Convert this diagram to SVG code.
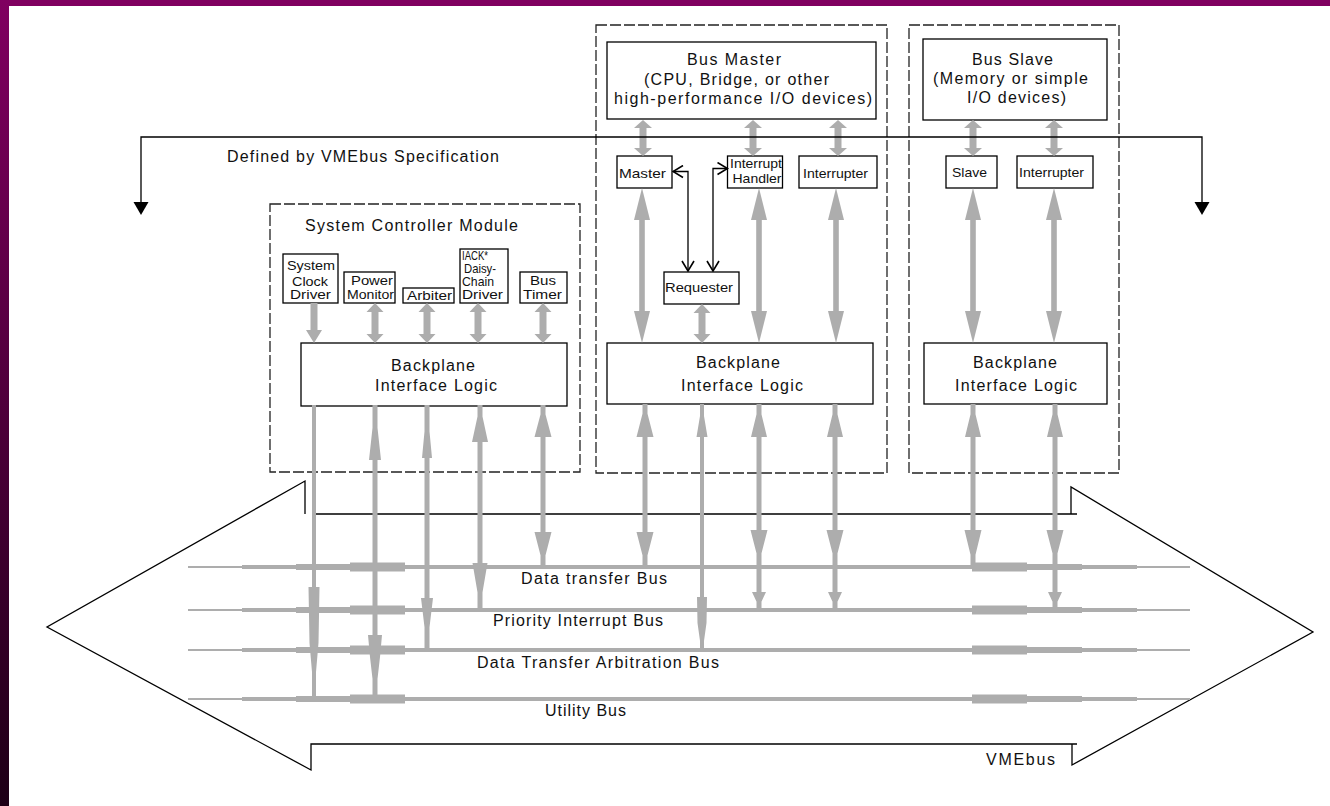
<svg xmlns="http://www.w3.org/2000/svg" width="1330" height="806" viewBox="0 0 1330 806">
<defs>
<linearGradient id="side" x1="0" y1="0" x2="0" y2="1"><stop offset="0" stop-color="#800060"/><stop offset="1" stop-color="#1e0016"/></linearGradient>
<marker id="tri" markerUnits="userSpaceOnUse" viewBox="0 -8 14 16" markerWidth="14" markerHeight="16" refX="0" refY="0" orient="auto"><path d="M0,-7.5L13,0L0,7.5Z" fill="#000"/></marker>
<marker id="open" markerUnits="userSpaceOnUse" viewBox="-1 -7 12 14" markerWidth="12" markerHeight="14" refX="10" refY="0" orient="auto-start-reverse"><path d="M0,-6L10,0L0,6" fill="none" stroke="#000" stroke-width="1.6"/></marker>
<path id="busline" fill="#adadad" d="M188,-1 H242 V-2 H296 V-3 H350 V-4.5 H405 V-2 H972 V-4.5 H1027 V-3 H1082 V-2 H1137 V-1 H1190 V1 H1137 V2 H1082 V3 H1027 V4.5 H972 V2 H405 V4.5 H350 V3 H296 V2 H242 V1 H188 Z"/>
<style>
.box{fill:#fff;stroke:#000;stroke-width:1.3}
.dash{fill:none;stroke:#222;stroke-width:1.3;stroke-dasharray:11 3}
.t{font-family:"Liberation Sans",Arial,sans-serif;fill:#111}
.L{font-size:16px}
.S{font-size:13px}
.g{fill:#adadad}
.k{stroke:#000;stroke-width:1.3;fill:none}
</style>
</defs>
<rect x="0" y="0" width="1330" height="806" fill="#fff"/>
<rect x="0" y="0" width="1330" height="6" fill="#800060"/>
<rect x="0" y="0" width="9" height="806" fill="url(#side)"/>

<g id="bus-master-module">
<rect class="dash" x="596" y="25" width="291" height="448"/>
</g>
<g id="bus-slave-module">
<rect class="dash" x="909" y="25" width="210" height="448"/>
</g>
<g id="system-controller-module">
<rect class="dash" x="270" y="204" width="310" height="268"/>
<text class="t L" x="305" y="231" textLength="213">System Controller Module</text>
</g>

<g id="bus-master">
<rect class="box" x="607" y="42" width="269" height="77"/>
<text class="t L" x="687" y="65" textLength="94">Bus Master</text>
<text class="t L" x="644" y="85" textLength="185">(CPU, Bridge, or other</text>
<text class="t L" x="614" y="104" textLength="258">high-performance I/O devices)</text>
</g>
<g id="bus-slave">
<rect class="box" x="923" y="39" width="184" height="81"/>
<text class="t L" x="972" y="65" textLength="81">Bus Slave</text>
<text class="t L" x="933" y="84" textLength="155">(Memory or simple</text>
<text class="t L" x="967" y="103" textLength="99">I/O devices)</text>
</g>
<g id="master">
<rect class="box" x="617" y="156" width="55" height="32"/>
<text class="t S" x="619" y="178" textLength="47" lengthAdjust="spacingAndGlyphs">Master</text>
</g>
<g id="interrupt-handler">
<rect class="box" x="727.5" y="156" width="55" height="32"/>
<text class="t S" x="730" y="167.5" textLength="52" lengthAdjust="spacingAndGlyphs">Interrupt</text>
<text class="t S" x="732.5" y="183" textLength="49" lengthAdjust="spacingAndGlyphs">Handler</text>
</g>
<g id="interrupter-master">
<rect class="box" x="799" y="156" width="78" height="32"/>
<text class="t S" x="803" y="178" textLength="65" lengthAdjust="spacingAndGlyphs">Interrupter</text>
</g>
<g id="slave">
<rect class="box" x="946" y="156" width="51" height="32"/>
<text class="t S" x="952" y="177" textLength="35" lengthAdjust="spacingAndGlyphs">Slave</text>
</g>
<g id="interrupter-slave">
<rect class="box" x="1017" y="156" width="76" height="32"/>
<text class="t S" x="1019" y="177" textLength="65" lengthAdjust="spacingAndGlyphs">Interrupter</text>
</g>
<g id="requester">
<rect class="box" x="664" y="272" width="75" height="32"/>
<text class="t S" x="665" y="292" textLength="68" lengthAdjust="spacingAndGlyphs">Requester</text>
</g>
<g id="backplane-master">
<rect class="box" x="607" y="343" width="266" height="61"/>
<text class="t L" x="696" y="368" textLength="84">Backplane</text>
<text class="t L" x="681" y="391" textLength="122">Interface Logic</text>
</g>
<g id="backplane-slave">
<rect class="box" x="924" y="343" width="183" height="61"/>
<text class="t L" x="973" y="368" textLength="84">Backplane</text>
<text class="t L" x="955" y="391" textLength="122">Interface Logic</text>
</g>
<g id="backplane-sysctrl">
<rect class="box" x="301" y="343" width="266" height="63"/>
<text class="t L" x="391" y="371" textLength="84">Backplane</text>
<text class="t L" x="375" y="391" textLength="122">Interface Logic</text>
</g>
<g id="system-clock-driver">
<rect class="box" x="283" y="254" width="55" height="49"/>
<text class="t S" x="287" y="270" textLength="48" lengthAdjust="spacingAndGlyphs">System</text>
<text class="t S" x="292" y="285.5" textLength="36" lengthAdjust="spacingAndGlyphs">Clock</text>
<text class="t S" x="290" y="299" textLength="41" lengthAdjust="spacingAndGlyphs">Driver</text>
</g>
<g id="power-monitor">
<rect class="box" x="344" y="272" width="51" height="31"/>
<text class="t S" x="351" y="285" textLength="42" lengthAdjust="spacingAndGlyphs">Power</text>
<text class="t S" x="347" y="299" textLength="47" lengthAdjust="spacingAndGlyphs">Monitor</text>
</g>
<g id="arbiter">
<rect class="box" x="403" y="288" width="51" height="15"/>
<text class="t S" x="407" y="300" textLength="45" lengthAdjust="spacingAndGlyphs">Arbiter</text>
</g>
<g id="iack-daisy-chain-driver">
<rect class="box" x="460" y="249" width="48" height="54"/>
<text class="t S" x="462" y="260" textLength="26" lengthAdjust="spacingAndGlyphs">IACK*</text>
<text class="t S" x="464" y="273" textLength="32" lengthAdjust="spacingAndGlyphs">Daisy-</text>
<text class="t S" x="462" y="286" textLength="32" lengthAdjust="spacingAndGlyphs">Chain</text>
<text class="t S" x="462" y="299" textLength="41" lengthAdjust="spacingAndGlyphs">Driver</text>
</g>
<g id="bus-timer">
<rect class="box" x="520" y="272" width="47" height="31"/>
<text class="t S" x="530" y="285" textLength="26" lengthAdjust="spacingAndGlyphs">Bus</text>
<text class="t S" x="523" y="299" textLength="39" lengthAdjust="spacingAndGlyphs">Timer</text>
</g>

<g id="vmebus">
<path class="k" d="M305,514 V481 L47,627 L311,770 V744 H1077 M312,514 H1077 M1071,514 V487 L1313,632 L1072,765 V744"/>
<use href="#busline" y="567"/>
<use href="#busline" y="610"/>
<use href="#busline" y="650"/>
<use href="#busline" y="699"/>
<text class="t L" x="986" y="765" textLength="69">VMEbus</text>
<text class="t L" x="521" y="584" textLength="146">Data transfer Bus</text>
<text class="t L" x="493" y="626" textLength="170">Priority Interrupt Bus</text>
<text class="t L" x="477" y="668" textLength="242">Data Transfer Arbitration Bus</text>
<text class="t L" x="545" y="716" textLength="81">Utility Bus</text>
</g>

<g id="connectors">
<g class="g">
<path d="M643,120 L652,128 H646.5 V148 H652 L643,156 L634,148 H639.5 V128 H634 Z"/>
<path d="M753,120 L762,128 H756.5 V148 H762 L753,156 L744,148 H749.5 V128 H744 Z"/>
<path d="M838,120 L847,128 H841.5 V148 H847 L838,156 L829,148 H834.5 V128 H829 Z"/>
<path d="M973,120 L982,128 H976.5 V148 H982 L973,156 L964,148 H969.5 V128 H964 Z"/>
<path d="M1054,120 L1063,128 H1057.5 V148 H1063 L1054,156 L1045,148 H1050.5 V128 H1045 Z"/>
<path d="M375,303 L383.5,312 H378.5 V334 H383.5 L375,343 L366.5,334 H371.5 V312 H366.5 Z"/>
<path d="M427,303 L435.5,312 H430.5 V334 H435.5 L427,343 L418.5,334 H423.5 V312 H418.5 Z"/>
<path d="M478,303 L486.5,312 H481.5 V334 H486.5 L478,343 L469.5,334 H474.5 V312 H469.5 Z"/>
<path d="M543,303 L551.5,312 H546.5 V334 H551.5 L543,343 L534.5,334 H539.5 V312 H534.5 Z"/>
<path d="M310.5,303 H317.5 V330 H322 L314,343 L306,330 H310.5 Z"/>
<path d="M702,304 L710.5,313 H705.5 V334 H710.5 L702,343 L693.5,334 H698.5 V313 H693.5 Z"/>
<path d="M642,188 L650,220 H644.8 V311 H650 L642,343 L634,311 H639.2 V220 H634 Z"/>
<path d="M759,188 L767,220 H761.8 V311 H767 L759,343 L751,311 H756.2 V220 H751 Z"/>
<path d="M836,188 L844,220 H838.8 V311 H844 L836,343 L828,311 H833.2 V220 H828 Z"/>
<path d="M973,188 L981,220 H975.8 V311 H981 L973,343 L965,311 H970.2 V220 H965 Z"/>
<path d="M1054,188 L1062,220 H1056.8 V311 H1062 L1054,343 L1046,311 H1051.2 V220 H1046 Z"/>
<path d="M312,405 H316 V699 H312 Z M308.5,587 H319.5 L318.5,643 L316,672 H312 L309.5,643 Z"/>
<path d="M372.5,405 H377.5 V699 H372.5 Z M375,405 L381,460 H369 Z M368,635 H382 L380,657 L376,692 H374 L370,657 Z"/>
<path d="M424.5,405 H429.5 V650 H424.5 Z M427,405 L432,458 H422 Z M421,598 H433 L427,648 Z"/>
<path d="M477.5,405 H482.5 V610 H477.5 Z M480,405 L488,442 H472 Z M472.5,563 H487.5 L480,607 Z"/>
<path d="M540.5,405 H545.5 V567 H540.5 Z M543,405 L551.5,437 H534.5 Z M534.5,532 H551.5 L543,565 Z"/>
<path d="M642.5,404 H647.5 V567 H642.5 Z M645,404 L653.5,437 H636.5 Z M636.5,532 H653.5 L645,565 Z"/>
<path d="M700,404 H704 V650 H700 Z M702,404 L707.5,437 H696.5 Z M697,597 H707 L706.5,623 L703,648 H701 L697.5,623 Z"/>
<path d="M756.5,404 H761.5 V610 H756.5 Z M759,404 L767,437 H751 Z M750.5,530 H767.5 L759,563 Z M752,592 H766 L759,607 Z"/>
<path d="M832.5,404 H837.5 V610 H832.5 Z M835,404 L843,437 H827 Z M826.5,530 H843.5 L835,563 Z M828,592 H842 L835,607 Z"/>
<path d="M970.5,404 H975.5 V567 H970.5 Z M973,404 L981,437 H965 Z M964.5,530 H981.5 L973,565 Z"/>
<path d="M1052.5,404 H1057.5 V610 H1052.5 Z M1055,404 L1063,437 H1047 Z M1046.5,530 H1063.5 L1055,563 Z M1048,592 H1062 L1055,607 Z"/>
</g>
<path class="k" stroke-width="1.4" d="M688,271 V171.5 H673" marker-start="url(#open)" marker-end="url(#open)"/>
<path class="k" stroke-width="1.4" d="M713,271 V168.5 H727.5" marker-start="url(#open)" marker-end="url(#open)"/>
</g>

<g id="vmebus-specification-scope">
<path class="k" stroke-width="1.5" d="M670,137 H141 V202" marker-end="url(#tri)"/>
<path class="k" stroke-width="1.5" d="M670,137 H1202 V202" marker-end="url(#tri)"/>
<text class="t L" x="227" y="162" textLength="272">Defined by VMEbus Specification</text>
</g>
</svg>
